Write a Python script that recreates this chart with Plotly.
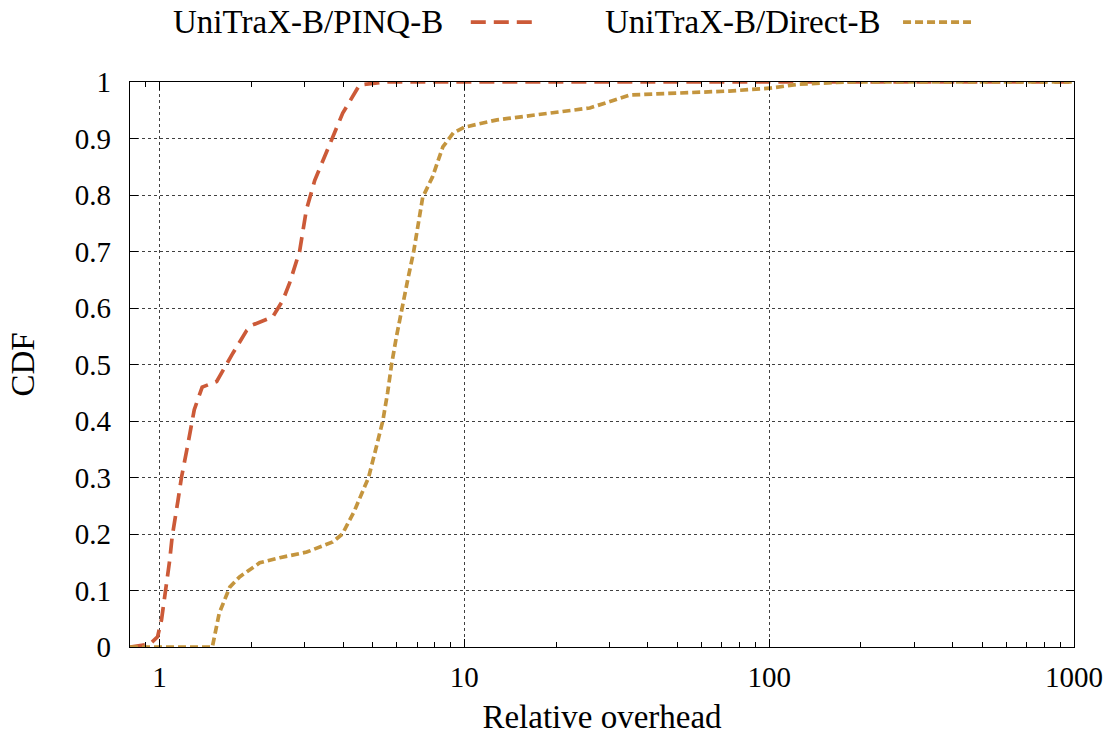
import plotly.graph_objects as go

pinq_x = [0.8, 0.93, 0.985, 1.015, 1.08, 1.10, 1.15, 1.18, 1.23, 1.30, 1.38, 1.54, 1.74, 1.93, 2.02,
          2.35, 2.54, 2.67, 2.88, 3.03, 3.23, 3.70, 3.99, 4.2, 4.53, 5.55, 10, 100, 1000]
pinq_y = [0.0, 0.005, 0.018, 0.048, 0.154, 0.195, 0.26, 0.30, 0.35, 0.42, 0.46, 0.47, 0.52, 0.56, 0.57,
          0.584, 0.614, 0.644, 0.70, 0.773, 0.826, 0.903, 0.945, 0.965, 0.995, 1.0, 1.0, 1.0, 1.0]

direct_x = [0.8, 1.49, 1.57, 1.70, 1.83, 2.13, 2.48, 3.04, 3.70, 3.98, 4.35, 4.85, 5.12, 5.40, 5.6, 5.77,
            5.99, 6.23, 6.52, 6.82, 7.3, 7.86, 8.5, 9.2, 10.0, 12.8, 16.4, 25.8, 34.9, 74, 100,
            125, 180, 1000]
direct_y = [0.0, 0.0, 0.06, 0.106, 0.124, 0.149, 0.158, 0.168, 0.186, 0.20, 0.24, 0.30, 0.35, 0.40,
            0.45, 0.50, 0.55, 0.60, 0.65, 0.70, 0.796, 0.832, 0.885, 0.91, 0.92, 0.933,
            0.94, 0.954, 0.977, 0.984, 0.989, 0.996, 1.0, 1.0]

x_ticks = [1, 10, 100, 1000]
x_tick_labels = ["1", "10", "100", "1000"]
y_ticks = [0, 0.1, 0.2, 0.3, 0.4, 0.5, 0.6, 0.7, 0.8, 0.9, 1]
y_tick_labels = ["0", "0.1", "0.2", "0.3", "0.4", "0.5", "0.6", "0.7", "0.8", "0.9", "1"]

names = ["UniTraX-B/PINQ-B", "UniTraX-B/Direct-B"]
colors = ["#cc5a38", "#c4953e"]

FONT = "Liberation Serif"
TICK_SIZE = 29
TEXT_SIZE = 33

fig = go.Figure()
fig.add_trace(go.Scatter(x=pinq_x, y=pinq_y, mode="lines", name=names[0],
                         line=dict(color=colors[0], width=3.7, dash="15px,8px")))
fig.add_trace(go.Scatter(x=direct_x, y=direct_y, mode="lines", name=names[1],
                         line=dict(color=colors[1], width=3.7, dash="8px,4px")))

axis_common = dict(showline=True, linecolor="black", linewidth=1.2, mirror="ticks",
                   ticks="inside", tickcolor="black", ticklen=8, tickwidth=1,
                   showgrid=True, gridcolor="rgba(0,0,0,0.75)", griddash="dot", gridwidth=1,
                   zeroline=False, automargin=False,
                   tickfont=dict(family=FONT, size=TICK_SIZE, color="black"))

fig.update_xaxes(type="log", range=[-0.0969, 3], tickvals=x_ticks, ticktext=x_tick_labels,
                 minor=dict(ticks="inside", ticklen=5, tickcolor="black", dtick="D1", showgrid=False),
                 ticklabelstandoff=4,
                 title=dict(text="Relative overhead", font=dict(family=FONT, size=TEXT_SIZE, color="black"),
                            standoff=12),
                 **axis_common)
fig.update_yaxes(range=[0, 1], tickvals=y_ticks, ticktext=y_tick_labels,
                 ticklabelstandoff=12,
                 title=dict(text="CDF", font=dict(family=FONT, size=TEXT_SIZE, color="black"), standoff=30),
                 **axis_common)

# custom legend: text followed by a line sample
LEG_Y = 1.106
fig.add_annotation(text=names[0], xref="paper", yref="paper", x=0.3337, y=LEG_Y, xanchor="right",
                   yanchor="middle", showarrow=False,
                   font=dict(family=FONT, size=TEXT_SIZE, color="black"))
fig.add_shape(type="line", xref="paper", yref="paper", x0=0.361, x1=0.433, y0=LEG_Y, y1=LEG_Y,
              line=dict(color=colors[0], width=3.7, dash="15px,8px"))
fig.add_annotation(text=names[1], xref="paper", yref="paper", x=0.7977, y=LEG_Y, xanchor="right",
                   yanchor="middle", showarrow=False,
                   font=dict(family=FONT, size=TEXT_SIZE, color="black"))
fig.add_shape(type="line", xref="paper", yref="paper", x0=0.8189, x1=0.8909, y0=LEG_Y, y1=LEG_Y,
              line=dict(color=colors[1], width=3.7, dash="8px,4px"))

fig.update_layout(width=1112, height=735, margin=dict(l=130, r=38, t=82, b=88),
                  plot_bgcolor="white", paper_bgcolor="white", showlegend=False,
                  font=dict(family=FONT, color="black"))

fig.write_html("out.html")
